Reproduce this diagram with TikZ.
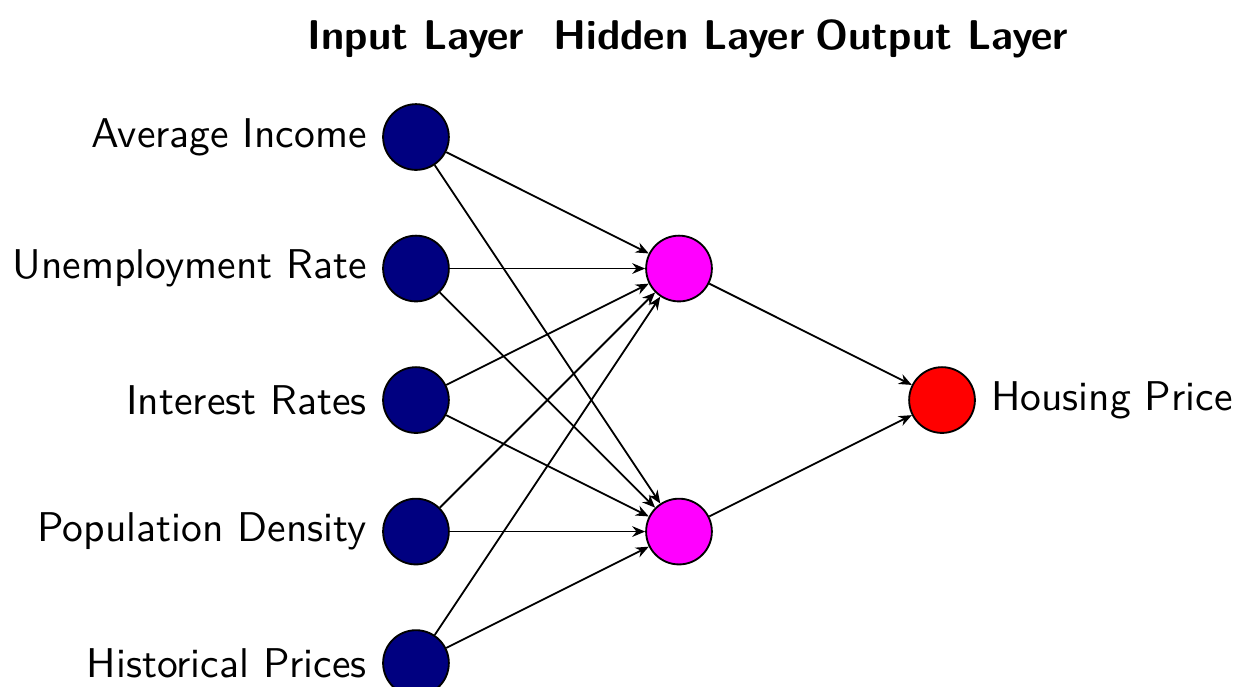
\documentclass[tikz,border=0pt]{standalone}
\usetikzlibrary{arrows.meta}
\definecolor{navy}{RGB}{0,0,128}
\definecolor{hidmagenta}{RGB}{255,0,255}
\definecolor{outred}{RGB}{255,0,0}
\begin{document}
\begin{tikzpicture}[
  font=\sffamily\fontsize{10}{12}\selectfont,
  neuron/.style={circle, draw=black, line width=0.4pt, minimum size=0.5cm, inner sep=0pt},
  inneuron/.style={neuron, fill=navy},
  hidneuron/.style={neuron, fill=hidmagenta},
  outneuron/.style={neuron, fill=outred},
  caption/.style={scale=0.9, transform shape, inner sep=3.5pt},
  conn/.style={-{Stealth[length=2.8pt,width=2.3pt]}, line width=0.4pt},
  layertitle/.style={anchor=base, scale=0.9, transform shape, font=\sffamily\bfseries\fontsize{10}{12}\selectfont}
]
\clip (-3.163,0.042) rectangle (6.319,-5.175);

% layer headings
\node[layertitle] (tin)  at (0,-0.331) {Input Layer};
\node[layertitle] (thid) at (2,-0.331) {Hidden Layer};
\node[layertitle] (tout) at (4,-0.331) {Output Layer};

% input layer
\node[inneuron] (i1) at (0,-1) {};
\node[inneuron] (i2) at (0,-2) {};
\node[inneuron] (i3) at (0,-3) {};
\node[inneuron] (i4) at (0,-4) {};
\node[inneuron] (i5) at (0,-5) {};
\node[caption, anchor=east] (l1) at (i1.west) {Average Income};
\node[caption, anchor=east] (l2) at (i2.west) {Unemployment Rate};
\node[caption, anchor=east] (l3) at (i3.west) {Interest Rates};
\node[caption, anchor=east] (l4) at (i4.west) {Population Density};
\node[caption, anchor=east] (l5) at (i5.west) {Historical Prices};

% hidden layer
\node[hidneuron] (h1) at (2,-2) {};
\node[hidneuron] (h2) at (2,-4) {};

% output layer
\node[outneuron] (o1) at (4,-3) {};
\node[caption, anchor=west] (lo) at (o1.east) {Housing Price};

% connections
\foreach \i in {1,...,5}{
  \foreach \h in {1,2}{
    \draw[conn] (i\i) -- (h\h);
  }
}
\draw[conn] (h1) -- (o1);
\draw[conn] (h2) -- (o1);
\end{tikzpicture}
\end{document}
